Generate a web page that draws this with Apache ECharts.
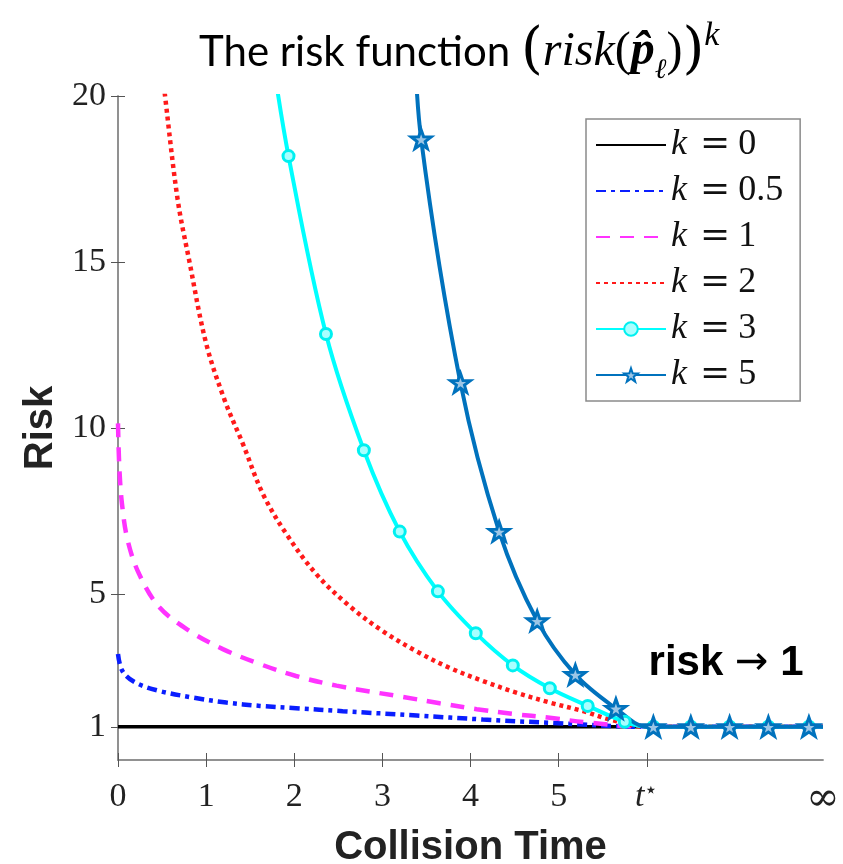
<!DOCTYPE html>
<html lang="en">
<head>
<meta charset="UTF-8">
<title>The risk function</title>
<script src="https://cdn.jsdelivr.net/npm/echarts@6/dist/echarts.min.js"></script>
<style>
  html, body { margin: 0; padding: 0; background: #fff; }
  #chart { width: 843px; height: 864px; }
</style>
</head>
<body>
<div id="chart"></div>
<script>
// values: [collision time, risk]
var k0Line = [[0, 1], [8, 1]];
var k05Line = [[0, 3.19], [0.05, 2.68], [0.2, 2.33], [0.47, 2.08], [0.85, 1.88], [1.23, 1.73],
  [1.61, 1.63], [2.02, 1.56], [2.55, 1.47], [3.39, 1.34], [4.14, 1.22], [4.9, 1.12], [6, 1], [8, 1]];
var k1Line = [[0, 10.14], [0.015, 8.82], [0.045, 7.72], [0.11, 6.61], [0.24, 5.6], [0.47, 4.6],
  [0.81, 3.89], [1.19, 3.34], [1.61, 2.89], [2.02, 2.53], [2.48, 2.24], [3.23, 1.9], [3.65, 1.71],
  [4.07, 1.53], [4.48, 1.39], [4.9, 1.27], [5.36, 1.12], [6, 1], [8, 1]];
var k2Line = [[0.48, 21.3], [0.534, 20], [0.677, 16.88], [0.81, 15.02], [1.0, 12.55], [1.21, 10.84],
  [1.416, 9.53], [1.643, 8.02], [1.91, 6.81], [2.25, 5.6], [2.63, 4.63], [3.0, 3.89], [3.39, 3.27],
  [3.76, 2.78], [4.14, 2.38], [4.52, 2.03], [4.9, 1.73], [5.28, 1.47], [5.58, 1.22], [6, 1], [8, 1]];
// k = 3 : points carrying a circle, and points the curve only passes through
var k3Marks = [[1.935, 18.19], [2.36, 12.83], [2.79, 9.33], [3.197, 6.88], [3.63, 5.08], [4.06, 3.82],
  [4.48, 2.85], [4.9, 2.16], [5.33, 1.63], [5.75, 1.15], [6.075, 1], [6.5, 1], [6.94, 1], [7.38, 1], [7.84, 1]];
var k3Pass = [[1.75, 21.2], [6, 1], [8, 1]];
// k = 5 : star markers
var k5Marks = [[3.44, 18.7], [3.886, 11.36], [4.325, 6.88], [4.757, 4.19], [5.19, 2.57], [5.65, 1.55],
  [6.075, 1], [6.5, 1], [6.94, 1], [7.38, 1], [7.84, 1]];
var k5Pass = [[3.36, 22.2], [6, 1], [8, 1]];

var kNames = ['k = 0', 'k = 0.5', 'k = 1', 'k = 2', 'k = 3', 'k = 5'];
var kHasMarker = [false, false, false, false, true, true];
var xTicks = [0, 1, 2, 3, 4, 5, 6];
var xLabelVals = [0, 1, 2, 3, 4, 5, 6, 8];
var xLabelText = ['0', '1', '2', '3', '4', '5', '{t|t}{s|⋆}', '{inf|∞}'];
var yTicks = [1, 5, 10, 15, 20];

function withMarkers(marks, pass) {
  var all = marks.map(function (p) { return { value: p }; })
    .concat(pass.map(function (p) { return { value: p, symbol: 'none' }; }));
  all.sort(function (a, b) { return a.value[0] - b.value[0]; });
  return all;
}

var legendData = kNames.map(function (n, i) {
  if (kHasMarker[i]) return { name: n };
  return { name: n, itemStyle: { color: 'rgba(0,0,0,0)', borderWidth: 0, opacity: 0 } };
});

var starPath = 'path://M0,-10L2.35,-3.24L9.51,-3.09L3.8,1.24L5.88,8.09L0,4L-5.88,8.09L-3.8,1.24L-9.51,-3.09L-2.35,-3.24Z';
var serif = 'Liberation Serif';
var axisGrey = '#8a8a8a';

var chart = echarts.init(document.getElementById('chart'));
chart.setOption({
  animation: false,
  title: {
    left: 194,
    top: 14,
    text: '{a|The risk function }{p|(}{m|risk}{s|(}{b|p̂}{sub|ℓ}{s|)}{p|)}{sup|k}',
    textStyle: {
      fontWeight: 'normal',
      rich: {
        a: { fontFamily: 'Lato', fontWeight: 'normal', fontSize: 42, color: '#000', lineHeight: 66 },
        p: { fontFamily: 'DejaVu Serif', fontWeight: 'normal', fontSize: 56, color: '#000', lineHeight: 66 },
        m: { fontFamily: serif, fontStyle: 'italic', fontWeight: 'normal', fontSize: 48, color: '#000', lineHeight: 66 },
        s: { fontFamily: serif, fontWeight: 'normal', fontSize: 48, color: '#000', lineHeight: 66 },
        b: { fontFamily: serif, fontStyle: 'italic', fontWeight: 'bold', fontSize: 48, color: '#000', lineHeight: 66 },
        sub: { fontFamily: serif, fontStyle: 'italic', fontWeight: 'normal', fontSize: 28, color: '#000', verticalAlign: 'bottom', lineHeight: 56 },
        sup: { fontFamily: serif, fontStyle: 'italic', fontWeight: 'normal', fontSize: 34, color: '#000', verticalAlign: 'top', lineHeight: 66 }
      }
    }
  },
  legend: {
    data: legendData,
    orient: 'vertical',
    left: 586,
    top: 119,
    padding: [8, 17, 8, 9],
    itemWidth: 70,
    itemHeight: 17,
    itemGap: 10,
    backgroundColor: '#fff',
    borderColor: '#8a8a8a',
    borderWidth: 1.5,
    formatter: function (name) { return '{i|k}{e|=}{n|' + name.split('= ')[1] + '}'; },
    textStyle: {
      lineHeight: 36,
      rich: {
        i: { fontFamily: serif, fontStyle: 'italic', fontSize: 36, color: '#111' },
        e: { fontFamily: 'DejaVu Serif', fontSize: 36, color: '#111', padding: [0, 8, 0, 13] },
        n: { fontFamily: serif, fontSize: 36, color: '#111' }
      }
    }
  },
  grid: { left: 118, right: 20, top: 96, bottom: 104, containLabel: false, outerBoundsMode: 'none' },
  xAxis: [{
    type: 'value', min: 0, max: 8, position: 'bottom',
    name: 'Collision Time', nameLocation: 'middle', nameGap: 68,
    nameTextStyle: { fontFamily: 'Liberation Sans', fontWeight: 'bold', fontSize: 40, color: '#222' },
    axisLine: { show: true, lineStyle: { color: axisGrey, width: 1.5 } },
    axisTick: { show: true, inside: true, length: 7, customValues: xTicks, lineStyle: { color: '#555' } },
    axisLabel: {
      customValues: xLabelVals, margin: 20, fontFamily: serif, fontSize: 34, color: '#222',
      formatter: function (v) { return xLabelText[xLabelVals.indexOf(v)]; },
      rich: {
        t: { fontFamily: serif, fontStyle: 'italic', fontSize: 34, color: '#222' },
        s: { fontFamily: 'DejaVu Serif', fontSize: 22, color: '#222', verticalAlign: 'top', padding: [0, 0, 12, 0] },
        inf: { fontFamily: 'DejaVu Serif', fontSize: 40, color: '#222' }
      }
    },
    splitLine: { show: false }
  }, {
    type: 'value', min: 0, max: 8, position: 'top',
    axisLine: { show: true, lineStyle: { color: axisGrey, width: 1.5 } },
    axisTick: { show: true, inside: true, length: 7, customValues: xTicks, lineStyle: { color: '#555' } },
    axisLabel: { show: false },
    splitLine: { show: false }
  }],
  yAxis: [{
    type: 'value', min: 0, max: 20, position: 'left',
    name: 'Risk', nameLocation: 'middle', nameGap: 37, nameRotate: 90,
    nameTextStyle: { fontFamily: 'Liberation Sans', fontWeight: 'bold', fontSize: 40, color: '#222' },
    axisLine: { show: true, lineStyle: { color: axisGrey, width: 1.5 } },
    axisTick: { show: true, inside: true, length: 7, customValues: yTicks, lineStyle: { color: '#555' } },
    axisLabel: { customValues: yTicks, margin: 12, fontFamily: serif, fontSize: 34, color: '#222' },
    splitLine: { show: false }
  }, {
    type: 'value', min: 0, max: 20, position: 'right',
    axisLine: { show: true, lineStyle: { color: axisGrey, width: 1.5 } },
    axisTick: { show: true, inside: true, length: 7, customValues: yTicks, lineStyle: { color: '#555' } },
    axisLabel: { show: false },
    splitLine: { show: false }
  }],
  series: [{
    name: kNames[0], type: 'line', data: k0Line, symbol: 'none',
    lineStyle: { color: '#000', width: 3.5 }, itemStyle: { color: '#000' },
    markPoint: {
      symbol: 'circle', symbolSize: 0,
      label: {
        show: true, position: 'inside', color: '#000',
        formatter: '{r|risk }{a|→}{r| 1}',
        rich: {
          r: { fontFamily: 'Liberation Sans', fontWeight: 'bold', fontSize: 42, color: '#000' },
          a: { fontFamily: 'DejaVu Sans', fontSize: 40, color: '#000' }
        }
      },
      data: [{ coord: [6.9, 2.9] }]
    }
  }, {
    name: kNames[1], type: 'line', data: k05Line, symbol: 'none', smooth: 0.35,
    lineStyle: { color: '#0a1eff', width: 4.5, type: [10, 5, 4, 5] }, itemStyle: { color: '#0a1eff' }
  }, {
    name: kNames[2], type: 'line', data: k1Line, symbol: 'none', smooth: 0.35,
    lineStyle: { color: '#ff33ff', width: 4.5, type: [14, 10] }, itemStyle: { color: '#ff33ff' }
  }, {
    name: kNames[3], type: 'line', data: k2Line, symbol: 'none', smooth: 0.35,
    lineStyle: { color: '#ff1a1a', width: 4.5, type: [4, 4] }, itemStyle: { color: '#ff1a1a' }
  }, {
    name: kNames[4], type: 'line', data: withMarkers(k3Marks, k3Pass),
    symbol: 'circle', symbolSize: 11, smooth: 0.35,
    lineStyle: { color: '#00ffff', width: 4 },
    itemStyle: { color: '#a8ffff', borderColor: '#00f0f0', borderWidth: 3 }
  }, {
    name: kNames[5], type: 'line', data: withMarkers(k5Marks, k5Pass),
    symbol: starPath, symbolSize: 20, symbolKeepAspect: true, smooth: 0.35,
    lineStyle: { color: '#0072bd', width: 4 },
    itemStyle: { color: '#9cc6e6', borderColor: '#0072bd', borderWidth: 3 }
  }]
});
</script>
</body>
</html>
